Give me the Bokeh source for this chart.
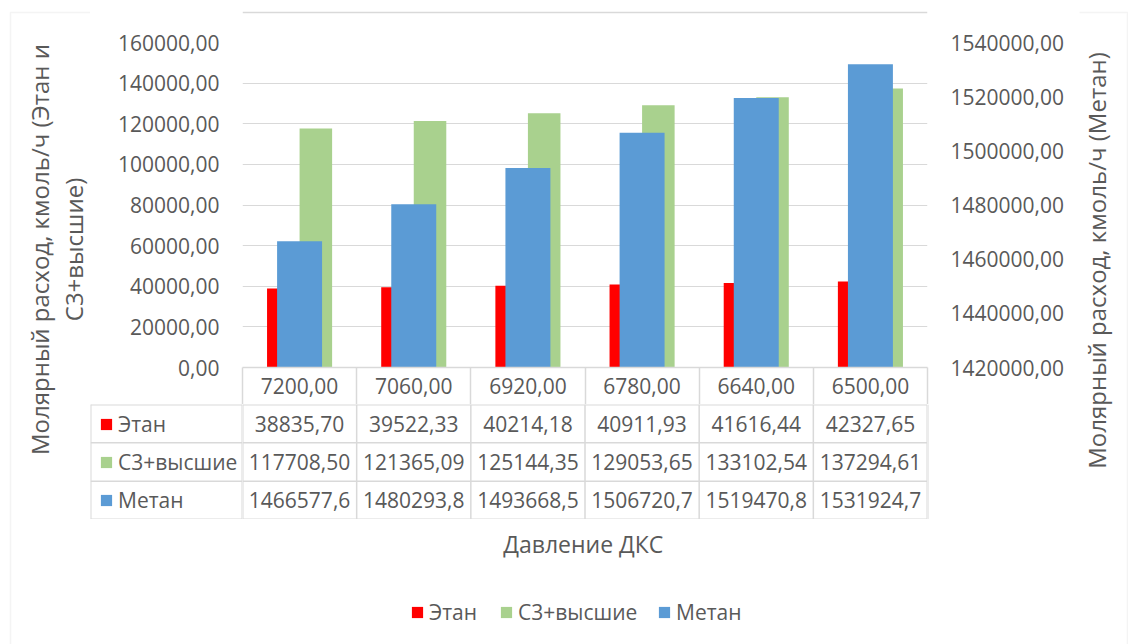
import math
from bokeh.plotting import figure
from bokeh.layouts import row, column
from bokeh.models import (Range1d, FactorRange, LinearAxis, FixedTicker, Label, LabelSet,
                          ColumnDataSource, Legend, LegendItem, Span, BoxAnnotation)
from bokeh.core.properties import value
from bokeh.transform import dodge
from bokeh.embed import file_html
from bokeh.resources import INLINE

# ---------------- data ----------------
categories = ["7200,00", "7060,00", "6920,00", "6780,00", "6640,00", "6500,00"]
ethane = [38835.70, 39522.33, 40214.18, 40911.93, 41616.44, 42327.65]
c3plus = [117708.50, 121365.09, 125144.35, 129053.65, 133102.54, 137294.61]
methane = [1466577.6, 1480293.8, 1493668.5, 1506720.7, 1519470.8, 1531924.7]
series_names = ["Этан", "С3+высшие", "Метан"]
left_ticks = [0, 20000, 40000, 60000, 80000, 100000, 120000, 140000, 160000]
right_ticks = [1420000, 1440000, 1460000, 1480000, 1500000, 1520000, 1540000]
left_title = "Молярный расход, кмоль/ч (Этан и\nС3+высшие)"
right_title = "Молярный расход, кмоль/ч (Метан)"
x_title = "Давление ДКС"

# ---------------- style ----------------
FONT = "Open Sans"
TXT = "#595959"
GRID = "#d9d9d9"
COLORS = ["#ff0000", "#a9d18e", "#5b9bd5"]
W, H = 1128, 644
A_W, C_W = 90, 49          # left / right strips
M_W = W - A_W - C_W        # middle column width (989)
T_H, B1_H, B2_H = 20, 384, 115
B3_H = H - T_H - B1_H - B2_H
SIDE = 152                 # left/right border of the main chart inside the middle column
ROW1 = 37                  # height of the first data-table row
NAN = float("nan")


def blank(w, h, x_range=None, y_range=None):
    f = figure(width=w, height=h,
               x_range=x_range if x_range is not None else Range1d(0, w),
               y_range=y_range if y_range is not None else Range1d(h, 0),
               x_axis_location=None, y_axis_location=None, min_border=0,
               toolbar_location=None, output_backend="svg")
    f.outline_line_color = None
    f.grid.visible = False
    return f


def frame_box(f, **kw):
    f.add_layout(BoxAnnotation(fill_alpha=0, line_color=GRID, line_width=1.5, **kw))


def style_legend(lg):
    lg.border_line_color = None
    lg.background_fill_alpha = 0
    lg.padding = 0
    lg.margin = 0
    lg.glyph_width = 14
    lg.glyph_height = 14
    lg.label_standoff = 5
    lg.label_text_font = FONT
    lg.label_text_font_size = "21px"
    lg.label_text_color = TXT
    lg.label_text_baseline = "middle"
    return lg


# ---------------- main chart ----------------
p = figure(width=M_W, height=B1_H, x_range=FactorRange(*categories, range_padding=0),
           y_range=Range1d(0, left_ticks[-1]), x_axis_location=None,
           output_backend="svg", toolbar_location=None,
           min_border_left=SIDE, min_border_right=SIDE, min_border_top=22, min_border_bottom=ROW1)
p.extra_y_ranges = {"metan": Range1d(right_ticks[0], right_ticks[-1])}
p.outline_line_color = None
p.xgrid.grid_line_color = None
p.ygrid.grid_line_color = GRID
p.ygrid.ticker = FixedTicker(ticks=left_ticks)

src = ColumnDataSource(dict(cat=categories, ethane=ethane, c3=c3plus, methane=methane))
r_e = p.vbar(x=dodge("cat", -0.1425, range=p.x_range), top="ethane", width=0.285, source=src,
             fill_color=COLORS[0], line_color=None)
r_c = p.vbar(x=dodge("cat", 0.1425, range=p.x_range), top="c3", width=0.285, source=src,
             fill_color=COLORS[1], line_color=None)
r_m = p.vbar(x="cat", top="methane", width=0.394, source=src, y_range_name="metan",
             fill_color=COLORS[2], line_color=None)

yl = p.yaxis[0]
yl.ticker = FixedTicker(ticks=left_ticks)
yl.major_label_overrides = {t: f"{t},00" for t in left_ticks}
yr = LinearAxis(y_range_name="metan", ticker=FixedTicker(ticks=right_ticks),
                major_label_overrides={t: f"{t},00" for t in right_ticks})
p.add_layout(yr, "right")
for ax in (yl, yr):
    ax.axis_line_color = None
    ax.major_tick_line_color = None
    ax.minor_tick_line_color = None
    ax.major_tick_out = 0
    ax.major_label_standoff = 23
    ax.major_label_text_font = FONT
    ax.major_label_text_font_size = "21px"
    ax.major_label_text_color = TXT

# first data-table row = category axis (labels at centres, cell borders as minor ticks)
centers = [i + 0.5 for i in range(len(categories))]
xa = LinearAxis(ticker=FixedTicker(ticks=centers, minor_ticks=list(range(len(categories) + 1))),
                major_label_overrides={c: cat for c, cat in zip(centers, categories)})
xa.axis_line_color = GRID
xa.axis_line_width = 1.5
xa.major_tick_line_color = None
xa.major_tick_out = 0
xa.major_tick_in = 0
xa.minor_tick_in = 0
xa.minor_tick_out = ROW1
xa.minor_tick_line_color = GRID
xa.minor_tick_line_width = 1.5
xa.major_label_standoff = 10 - ROW1
xa.major_label_text_font = FONT
xa.major_label_text_font_size = "21px"
xa.major_label_text_color = TXT
p.add_layout(xa, "below")

# ---------------- data table (rows 2-4) ----------------
rows_range = FactorRange(*reversed(series_names))
tbl = blank(M_W - 2 * SIDE, B2_H, x_range=p.x_range, y_range=rows_range)
fmt2 = lambda v: f"{v:.2f}".replace(".", ",")
fmt1 = lambda v: f"{v:.1f}".replace(".", ",")
t_cat, t_row, t_txt = [], [], []
for name, vals, fm in zip(series_names, [ethane, c3plus, methane], [fmt2, fmt2, fmt1]):
    for cat, v in zip(categories, vals):
        t_cat.append(cat)
        t_row.append(name)
        t_txt.append(fm(v))
tsrc = ColumnDataSource(dict(cat=t_cat, row=t_row, txt=t_txt))
tbl.add_layout(LabelSet(x="cat", y="row", text="txt", source=tsrc, text_align="center",
                        text_baseline="middle", text_font=value(FONT), text_font_size="21px",
                        text_color=TXT))
nc, nr = len(categories), len(series_names)
for i in range(nc + 1):
    tbl.add_layout(Span(location=i, dimension="height", line_color=GRID,
                        line_width=2 if i in (0, nc) else 1.5))
for j in range(nr + 1):
    tbl.add_layout(Span(location=j, dimension="width", line_color=GRID,
                        line_width=2 if j in (0, nr) else 1.5))

# left column of the table: legend keys + names
tl = blank(SIDE, B2_H, y_range=rows_range)
tl_r = [tl.vbar(x=[NAN], top=[NAN], width=1, fill_color=c, line_color=None) for c in COLORS]
for j in range(nr + 1):
    tl.add_layout(Span(location=j, dimension="width", line_color=GRID,
                       line_width=2 if j in (0, nr) else 1.5))
tl.add_layout(Span(location=0, dimension="height", line_color=GRID, line_width=2))
tl.add_layout(Span(location=SIDE, dimension="height", line_color=GRID, line_width=2))
leg_tbl = style_legend(Legend(items=[LegendItem(label=n, renderers=[r]) for n, r in zip(series_names, tl_r)],
                              location=(9, 0), orientation="vertical", spacing=0,
                              label_height=int(B2_H / nr)))
tl.add_layout(leg_tbl)

tr = blank(SIDE, B2_H)
tr.add_layout(Span(location=0, dimension="height", line_color=GRID, line_width=2))

# ---------------- bottom: axis title + legend ----------------
bot = blank(M_W, B3_H)
bot_r = [bot.vbar(x=[NAN], top=[NAN], width=1, fill_color=c, line_color=None) for c in COLORS]
bot.add_layout(Label(x=492, y=24, text=x_title, text_align="center", text_baseline="middle",
                     text_font=FONT, text_font_size="23px", text_color=TXT))
legend_x = [168, 257, 415]
for n, r, lx in zip(series_names, bot_r, legend_x):
    bot.add_layout(style_legend(Legend(items=[LegendItem(label=n, renderers=[r])],
                                       location=(lx, 18), label_height=24)))

# ---------------- strips with titles and chart border ----------------
top = blank(M_W, T_H)
top.add_layout(Span(location=12, dimension="width", line_color=GRID, line_width=1.5))

left = blank(A_W, H)
frame_box(left, left=10, right=A_W + 5, top=12, bottom=H + 5)
left.add_layout(Label(x=56, y=249, text=left_title, angle=math.pi / 2, text_align="center",
                      text_baseline="middle", text_font=FONT, text_font_size="24px",
                      text_color=TXT, text_line_height=1.03))

right = blank(C_W, H)
frame_box(right, left=-5, right=C_W - 1, top=12, bottom=H + 5)
right.add_layout(Label(x=17, y=260, text=right_title, angle=math.pi / 2, text_align="center",
                       text_baseline="middle", text_font=FONT, text_font_size="24px",
                       text_color=TXT))

layout = row(left, column(top, p, row(tl, tbl, tr), bot), right)
open("out.html", "w").write(file_html(layout, INLINE))
